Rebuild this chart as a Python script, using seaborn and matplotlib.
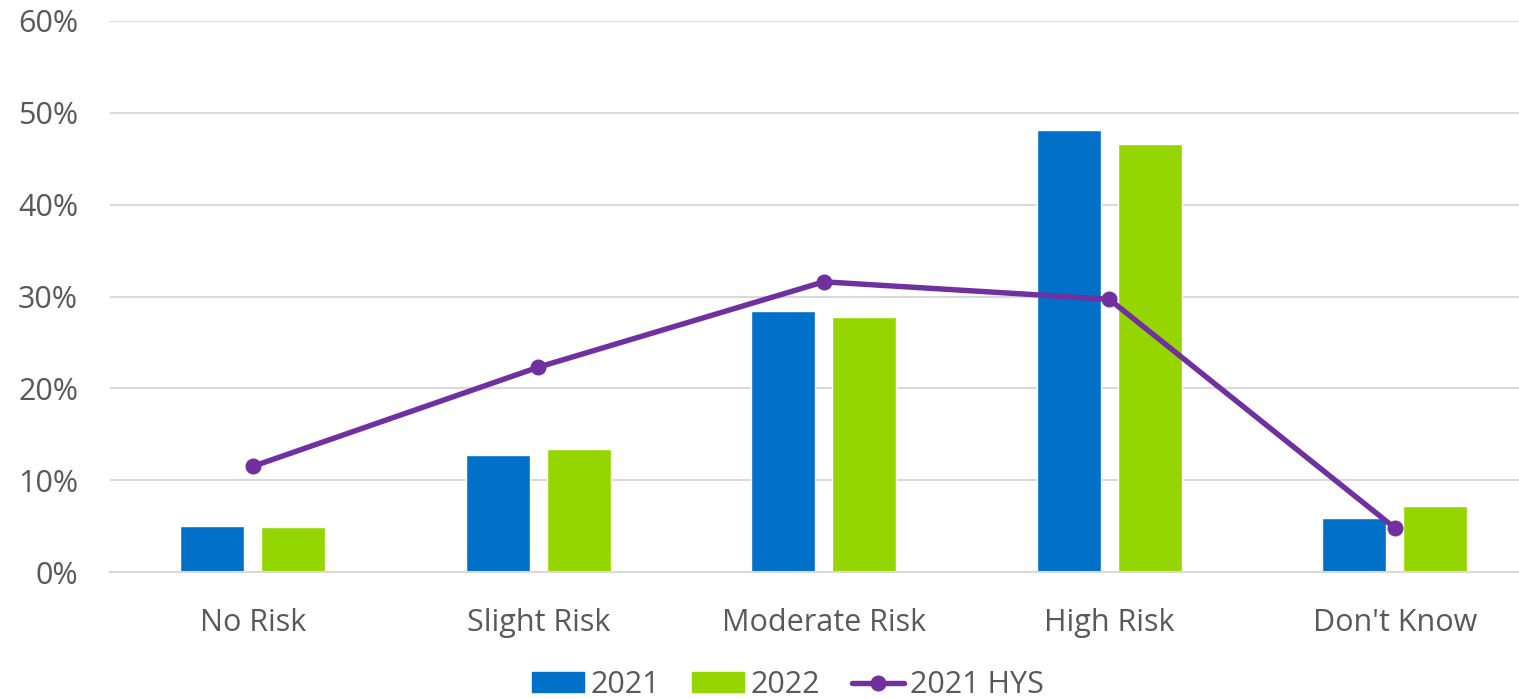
import pandas as pd
import numpy as np
import matplotlib.pyplot as plt
import seaborn as sns
from matplotlib.ticker import PercentFormatter
from matplotlib.patches import Patch
from matplotlib.lines import Line2D

# %% Dados
categorias = ["No Risk", "Slight Risk", "Moderate Risk", "High Risk", "Don't Know"]
v2021 = [5.0, 12.7, 28.4, 48.1, 5.9]
v2022 = [4.9, 13.4, 27.8, 46.6, 7.2]
hys2021 = [11.5, 22.3, 31.6, 29.7, 4.8]

df = pd.DataFrame({
    "cat": categorias * 2,
    "ano": ["2021"] * 5 + ["2022"] * 5,
    "valor": v2021 + v2022,
})

# %% Estilo
sns.set_theme(style="white")
plt.rcParams["font.family"] = ["Open Sans", "DejaVu Sans"]
cinza = "#595959"
azul, verde, roxo = "#0070C8", "#96D600", "#7030A0"

fig = plt.figure(figsize=(15.19, 6.99), dpi=100)
ax = fig.add_axes([110 / 1519, 1 - 572 / 699, 1427.5 / 1519, 551 / 699])

sns.barplot(data=df, x="cat", y="valor", hue="ano", order=categorias,
            palette={"2021": azul, "2022": verde},
            width=0.568, gap=0.21, ax=ax, legend=False, saturation=1)
ax.plot(range(len(categorias)), hys2021, color=roxo, lw=3.9,
        marker="o", markersize=10.5, label="2021 HYS", zorder=5)

ax.set_ylim(0, 60)
ax.set_xlim(-0.5, 4.5)
ax.set_yticks(range(0, 61, 10))
ax.yaxis.set_major_formatter(PercentFormatter(decimals=0))
ax.yaxis.grid(True, color="#d9d9d9", lw=1.5)
ax.set_axisbelow(True)
for s in ["top", "right", "left"]:
    ax.spines[s].set_visible(False)
ax.spines["bottom"].set_color("#d9d9d9")
ax.spines["bottom"].set_linewidth(1.5)
ax.tick_params(axis="both", length=0, labelsize=22, labelcolor=cinza)
ax.tick_params(axis="x", pad=26)
ax.tick_params(axis="y", pad=23)
ax.set_xlabel("")
ax.set_ylabel("")

# %% Legenda
handles = [Patch(color=azul, label="2021"),
           Patch(color=verde, label="2022"),
           Line2D([0], [0], color=roxo, lw=3.9, marker="o", markersize=10.5, label="2021 HYS")]
fig.legend(handles=handles, loc="center", bbox_to_anchor=(788 / 1519, 14 / 699),
           ncol=3, frameon=False, fontsize=22, labelcolor=cinza,
           handlelength=1.7, handleheight=0.65, handletextpad=0.2, columnspacing=1.05,
           borderpad=0)

plt.savefig("out.png", dpi=100)
